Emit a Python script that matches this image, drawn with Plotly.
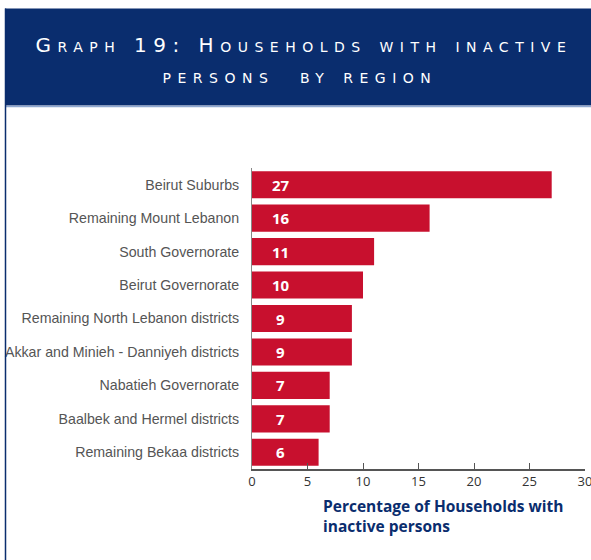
import plotly.graph_objects as go

# data
regions = ["Beirut Suburbs", "Remaining Mount Lebanon", "South Governorate",
           "Beirut Governorate", "Remaining North Lebanon districts",
           "Akkar and Minieh - Danniyeh districts", "Nabatieh Governorate",
           "Baalbek and Hermel districts", "Remaining Bekaa districts"]
pct = [27, 16, 11, 10, 9, 9, 7, 7, 6]
title_lines = ["Graph 19: Households with inactive", "persons  by region"]
axis_title = ["Percentage of Households with", "inactive persons"]

navy = "#0A2D6E"
red = "#C8102E"

fig = go.Figure(go.Bar(
    x=pct, y=regions, orientation="h",
    marker=dict(color=red, line=dict(width=0)),
    hoverinfo="x+y",
))

# plot area spans px 252..585 horizontally, 168..469 vertically
W, H = 333.0, 300.6
def px(x):
    return (x - 252) / W
def py(y):
    return (469 - y) / H

shapes = [
    dict(type="rect", xref="paper", yref="paper", x0=px(5), x1=px(600),
         y0=py(106), y1=py(9), fillcolor=navy, line=dict(width=0), layer="below"),
    dict(type="line", xref="paper", yref="paper", x0=px(5), x1=px(600),
         y0=py(107), y1=py(107), line=dict(color="#8FA8D0", width=1.5)),
    dict(type="line", xref="paper", yref="paper", x0=px(5.5), x1=px(5.5),
         y0=py(9), y1=py(570), line=dict(color=navy, width=1.5)),
]

# title first so the two title texts are the first annotations in the page
title_font = dict(family="DejaVu Sans", size=20, color="white", variant="small-caps")
for txt, cx, cy in zip(title_lines, [304, 300], [46, 77]):
    fig.add_annotation(xref="paper", yref="paper", x=px(cx), y=py(cy), text=txt,
                       showarrow=False, font=title_font, xanchor="center", yanchor="middle")

for txt, cy in zip(axis_title, [506, 526]):
    fig.add_annotation(xref="paper", yref="paper", x=px(321), y=py(cy), xanchor="left",
                       yanchor="middle", showarrow=False, text="<b>%s</b>" % txt,
                       font=dict(family="Open Sans", size=15.5, color=navy))

# value labels sit near the start of each bar
for r, v in zip(regions, pct):
    fig.add_annotation(x=2.6, y=r, text="<b>%d</b>" % v, showarrow=False,
                       font=dict(family="Open Sans", size=15, color="white"))

fig.update_layout(
    width=591, height=560,
    margin=dict(l=252, r=6, t=168, b=91),
    paper_bgcolor="white", plot_bgcolor="white",
    bargap=0.19, showlegend=False,
    shapes=shapes,
    xaxis=dict(range=[0, 30], dtick=5, ticks="inside", ticklen=6, tickcolor="#555",
               showline=True, linecolor="#555", linewidth=1.5, showgrid=False,
               zeroline=False, automargin=False, ticklabeloverflow="allow",
               tickfont=dict(family="Open Sans", size=13, color="#333")),
    yaxis=dict(autorange="reversed", showline=True, linecolor="#888", linewidth=1,
               showgrid=False, ticks="", ticklabelstandoff=9, automargin=False,
               tickfont=dict(family="Liberation Sans", size=14.2, color="#555")),
)

post = """
document.body.style.margin = '0';
var t = document.querySelectorAll('.annotation-text');
for (var i = 0; i < 2 && i < t.length; i++) { t[i].style.letterSpacing = '6.5px'; }
"""
fig.write_html("out.html", post_script=post, config={"displayModeBar": False})
